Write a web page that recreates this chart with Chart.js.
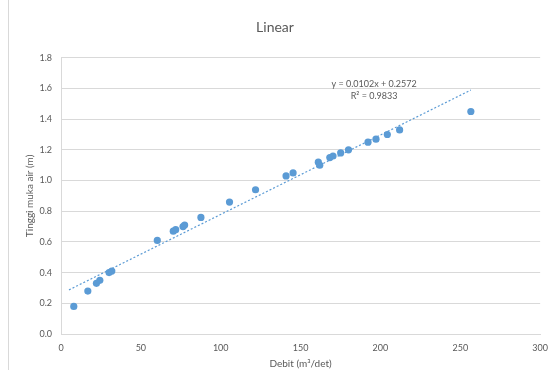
<!DOCTYPE html>
<html>
<head>
<meta charset="utf-8">
<script src="https://cdn.jsdelivr.net/npm/chart.js@4.4.1/dist/chart.umd.min.js"></script>
<style>
    html, body { margin: 0; padding: 0; background: #fff; }
    #wrap { width: 557px; height: 370px; }
</style>
</head>
<body>
<div id="wrap"><canvas id="chart" width="557" height="370"></canvas></div>
<script>
// Debit (m3/det) vs tinggi muka air (m)
const debit = [8, 16.8, 22.2, 24.3, 30.1, 31.8, 60.3, 70.3, 71.8, 76.4, 77.4, 87.6,
    105.5, 121.8, 140.9, 145.3, 161.1, 162, 168.3, 170.3, 175.1, 180, 192.2, 197.2,
    204.3, 212, 256.6];
const tinggi = [0.18, 0.28, 0.33, 0.35, 0.40, 0.41, 0.61, 0.67, 0.68, 0.70, 0.71, 0.76,
    0.86, 0.94, 1.03, 1.05, 1.12, 1.10, 1.15, 1.16, 1.18, 1.20, 1.25, 1.27,
    1.30, 1.33, 1.45];

// trendline x-range as drawn in the picture
const trendRange = [5, 256.6];
const equationText = ['y = 0.0102x + 0.2572', 'R\u00b2 = 0.9833'];

const xTicks = [0, 50, 100, 150, 200, 250, 300];
const yTicks = [0, 0.2, 0.4, 0.6, 0.8, 1.0, 1.2, 1.4, 1.6, 1.8];

const textColor = '#595959';
const gridColor = '#d9d9d9';
const blue = '#5b9bd5';
const fontFamily = 'Lato, "Open Sans", sans-serif';

// least squares fit for the trendline
const n = debit.length;
const mx = debit.reduce((a, b) => a + b, 0) / n;
const my = tinggi.reduce((a, b) => a + b, 0) / n;
let sxy = 0, sxx = 0;
for (let i = 0; i < n; i++) {
    sxy += (debit[i] - mx) * (tinggi[i] - my);
    sxx += (debit[i] - mx) * (debit[i] - mx);
}
const slope = sxy / sxx;
const intercept = my - slope * mx;
const trendPoints = trendRange.map(x => ({x: x, y: intercept + slope * x}));

const points = debit.map((x, i) => ({x: x, y: tinggi[i]}));

const framePlugin = {
    id: 'frame',
    beforeDraw(chart) {
        const ctx = chart.ctx;
        ctx.save();
        ctx.fillStyle = '#fff';
        ctx.fillRect(0, 0, chart.width, chart.height);
        ctx.strokeStyle = gridColor;
        ctx.lineWidth = 1;
        ctx.beginPath();
        ctx.moveTo(8.5, 0);
        ctx.lineTo(8.5, chart.height);
        ctx.stroke();
        ctx.restore();
    },
    afterDraw(chart) {
        const ctx = chart.ctx;
        const xs = chart.scales.x, ys = chart.scales.y;
        ctx.save();
        ctx.fillStyle = textColor;
        ctx.font = '9px ' + fontFamily;
        ctx.textAlign = 'center';
        ctx.textBaseline = 'middle';
        ctx.fillText(equationText[0], xs.getPixelForValue(196), ys.getPixelForValue(1.629));
        ctx.fillText(equationText[1], xs.getPixelForValue(196), ys.getPixelForValue(1.553));
        ctx.restore();
    }
};

new Chart(document.getElementById('chart'), {
    type: 'scatter',
    data: {
        datasets: [
            {
                label: 'Trend',
                type: 'line',
                data: trendPoints,
                borderColor: blue,
                borderWidth: 1.2,
                borderDash: [2, 2],
                pointRadius: 0,
                fill: false,
                order: 2
            },
            {
                label: 'Data',
                data: points,
                backgroundColor: blue,
                borderColor: blue,
                pointRadius: 3.6,
                pointBorderWidth: 0,
                order: 1
            }
        ]
    },
    options: {
        responsive: false,
        animation: false,
        layout: { padding: { left: 8, right: 15, top: 1, bottom: 0 } },
        plugins: {
            legend: { display: false },
            tooltip: { enabled: false },
            title: {
                display: true,
                text: 'Linear',
                color: textColor,
                font: { family: fontFamily, size: 14, weight: 'normal' },
                padding: { top: 18, bottom: 22 }
            }
        },
        scales: {
            x: {
                type: 'linear',
                min: 0,
                max: 300,
                afterBuildTicks: s => { s.ticks = xTicks.map(v => ({value: v})); },
                afterFit: s => { s.height = 36; },
                grid: { display: false, drawTicks: false },
                border: { color: gridColor },
                ticks: {
                    color: textColor,
                    font: { family: fontFamily, size: 9 },
                    padding: 9,
                    maxRotation: 0
                },
                title: {
                    display: true,
                    text: 'Debit (m\u00b3/det)',
                    color: textColor,
                    font: { family: fontFamily, size: 10 },
                    padding: { top: 0, bottom: 0 }
                }
            },
            y: {
                min: 0,
                max: 1.8,
                afterBuildTicks: s => { s.ticks = yTicks.map(v => ({value: v})); },
                afterFit: s => { s.width = 53; },
                grid: { color: gridColor, drawTicks: false },
                border: { color: gridColor },
                ticks: {
                    color: textColor,
                    font: { family: fontFamily, size: 9 },
                    padding: 9,
                    callback: v => v.toFixed(1)
                },
                title: {
                    display: true,
                    text: 'Tinggi muka air (m)',
                    color: textColor,
                    font: { family: fontFamily, size: 10 },
                    padding: { top: 16, bottom: 0 }
                }
            }
        }
    },
    plugins: [framePlugin]
});
</script>
</body>
</html>
